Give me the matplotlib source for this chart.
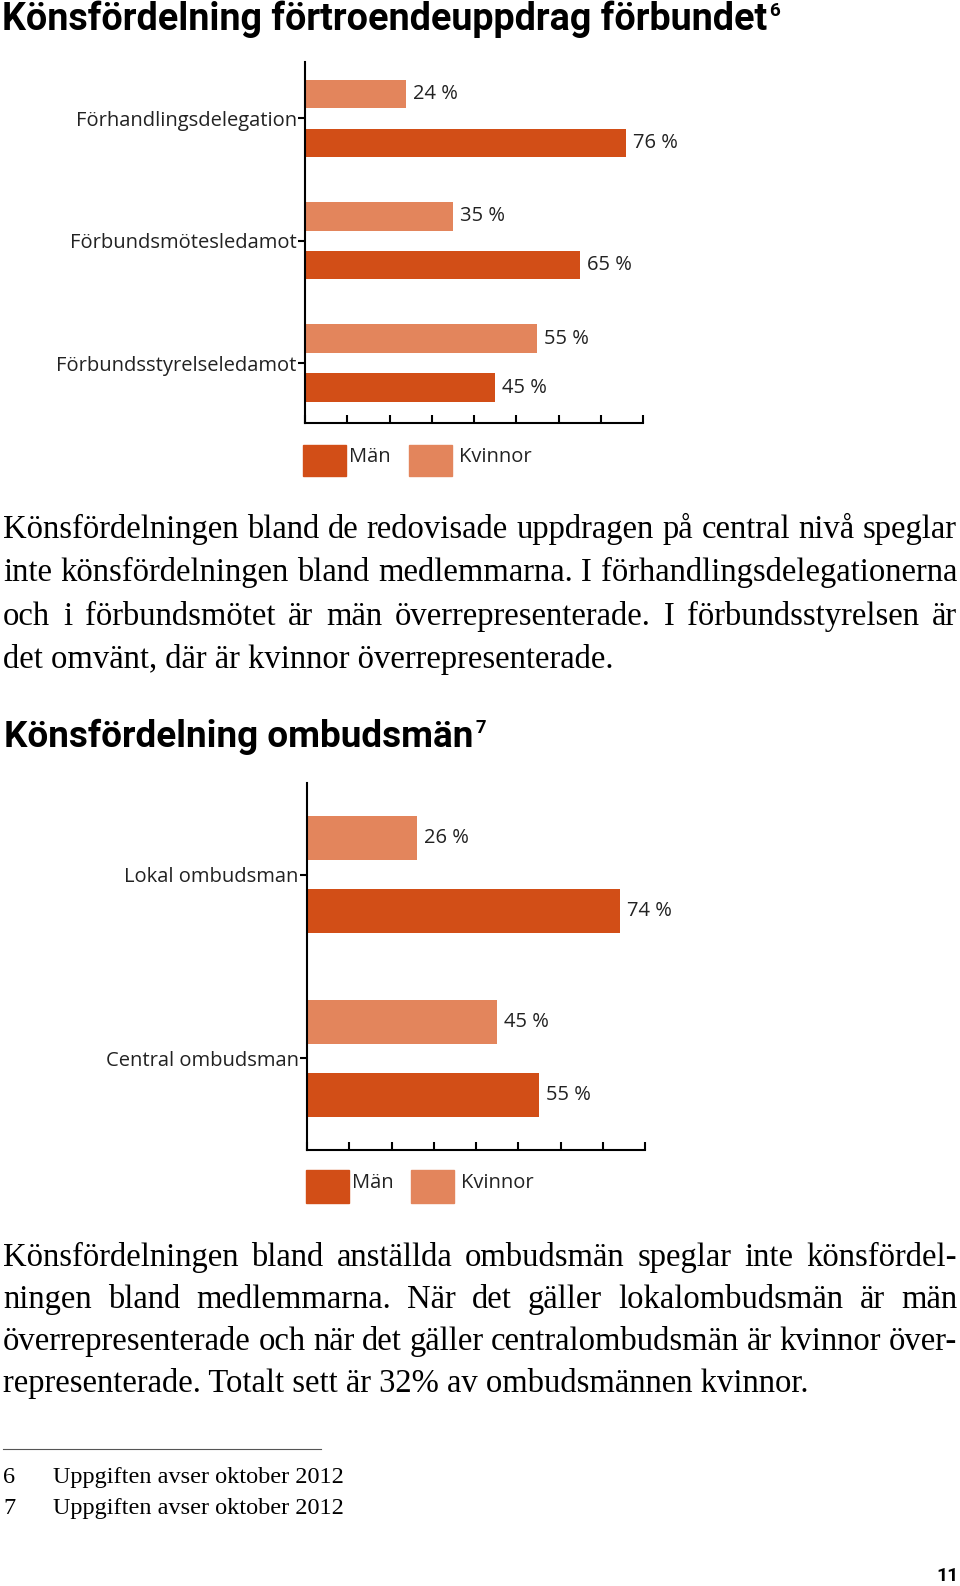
import numpy as np
import matplotlib
matplotlib.use("Agg")
import matplotlib.pyplot as plt
from matplotlib.patches import Rectangle
from matplotlib.lines import Line2D
from matplotlib import font_manager

# --- data ---
uppdrag = ["Förhandlingsdelegation", "Förbundsmötesledamot", "Förbundsstyrelseledamot"]
uppdrag_kvinnor = [24, 35, 55]
uppdrag_man = [76, 65, 45]

ombud = ["Lokal ombudsman", "Central ombudsman"]
ombud_kvinnor = [26, 45]
ombud_man = [74, 55]

legend_labels = ["Män", "Kvinnor"]
xticks = [0, 10, 20, 30, 40, 50, 60, 70, 80]

title1 = "Könsfördelning förtroendeuppdrag förbundet"
title2 = "Könsfördelning ombudsmän"

text1 = [
    "Könsfördelningen bland de redovisade uppdragen på central nivå speglar",
    "inte könsfördelningen bland medlemmarna. I förhandlingsdelegationerna",
    "och i förbundsmötet är män överrepresenterade. I förbundsstyrelsen är",
    "det omvänt, där är kvinnor överrepresenterade.",
]
text2 = [
    "Könsfördelningen bland anställda ombudsmän speglar inte könsfördel-",
    "ningen bland medlemmarna. När det gäller lokalombudsmän är män",
    "överrepresenterade och när det gäller centralombudsmän är kvinnor över-",
    "representerade. Totalt sett är 32% av ombudsmännen kvinnor.",
]
footnotes = [("6", "Uppgiften avser oktober 2012"), ("7", "Uppgiften avser oktober 2012")]

MAN = "#d24e17"
KVINNA = "#e3855c"

names = {f.name for f in font_manager.fontManager.ttflist}
head_font = "Liberation Sans Narrow" if "Liberation Sans Narrow" in names else "Roboto"
sans = "Open Sans"
serif = "Liberation Serif"
LABEL_SIZE = 14.5

W, H = 960, 1586
fig = plt.figure(figsize=(9.6, 15.86), dpi=100)
renderer = fig.canvas.get_renderer()


def fx(x):
    return x / W


def fy(y):
    return 1 - y / H


def width_px(t):
    return t.get_window_extent(renderer).width


def title(txt, sup, x0, y, target):
    t = fig.text(fx(x0), fy(y), txt, fontsize=30, weight="bold", family=head_font, va="baseline")
    size = 30 * target / width_px(t)
    t.set_fontsize(size)
    w = width_px(t)
    px = size * 100 / 72
    fig.text(fx(x0 + w + 2), fy(y - 0.38 * px), sup, fontsize=size * 0.5, weight="bold",
             family=head_font, va="baseline")


def paragraph(lines, y0, step, size=23.5, x0=3, x1=957):
    for i, line in enumerate(lines):
        y = y0 + i * step
        if i == len(lines) - 1:
            fig.text(fx(x0), fy(y), line, fontsize=size, family=serif, va="baseline")
            continue
        words = line.split()
        ts = [fig.text(fx(x0), fy(y), w, fontsize=size, family=serif, va="baseline") for w in words]
        ws = [width_px(t) for t in ts]
        gap = (x1 - x0 - sum(ws)) / (len(words) - 1)
        x = x0
        for t, w in zip(ts, ws):
            t.set_x(fx(x))
            x += w + gap


def bar_chart(box, cats, kv, ma, ylim, h):
    left, top, right, bottom = box
    ax = fig.add_axes([fx(left), fy(bottom), (right - left) / W, (bottom - top) / H])
    pos = np.arange(len(cats))
    b1 = ax.barh(pos - 0.2, kv, height=h, color=KVINNA)
    b2 = ax.barh(pos + 0.2, ma, height=h, color=MAN)
    for b, vals in ((b1, kv), (b2, ma)):
        ax.bar_label(b, labels=[f"{v} %" for v in vals], padding=5, fontsize=LABEL_SIZE,
                     family=sans, color="#222222")
    ax.set_xlim(0, 80)
    ax.set_ylim(*ylim)
    ax.set_xticks(xticks)
    ax.tick_params(axis="x", direction="in", length=6, width=1.5, labelbottom=False)
    ax.set_yticks(pos, cats)
    ax.tick_params(axis="y", direction="out", length=5, width=1.5, pad=1, labelsize=LABEL_SIZE)
    for lab in ax.get_yticklabels():
        lab.set_family(sans)
        lab.set_color("#222222")
    for s in ("top", "right"):
        ax.spines[s].set_visible(False)
    for s in ("left", "bottom"):
        ax.spines[s].set_linewidth(1.5)
    return ax


def legend(x0, x1, y_top, y_bot):
    # Män box + label, Kvinnor box + label
    for (bx, tx), lab, col in zip(((x0, x0 + 46), (x1, x1 + 50)), legend_labels, (MAN, KVINNA)):
        fig.add_artist(Rectangle((fx(bx), fy(y_bot)), 43 / W, (y_bot - y_top) / H,
                                 transform=fig.transFigure, color=col))
        fig.text(fx(tx), fy((y_top + y_bot) / 2 - 3), lab, fontsize=LABEL_SIZE, family=sans,
                 va="center", color="#222222")


# --- section 1 ---
title(title1, "6", 2, 30, 764)
bar_chart((305, 62, 643, 423), uppdrag, uppdrag_kvinnor, uppdrag_man, (2.49, -0.462), 0.233)
legend(303, 409, 445, 476)
paragraph(text1, 538, 43.3)

# --- section 2 ---
title(title2, "7", 4, 747, 469)
bar_chart((307, 783, 645, 1150), ombud, ombud_kvinnor, ombud_man, (1.5, -0.5), 0.24)
legend(306, 411, 1170, 1203)
paragraph(text2, 1266, 42)

# --- footnotes ---
fig.add_artist(Line2D([fx(3), fx(321)], [fy(1449), fy(1449)], transform=fig.transFigure,
                      color="#555555", lw=0.8))
for i, (num, txt) in enumerate(footnotes):
    y = 1483 + i * 31
    fig.text(fx(3), fy(y), num, fontsize=17.5, family=serif, va="baseline")
    fig.text(fx(53), fy(y), txt, fontsize=17.5, family=serif, va="baseline")

fig.text(fx(959), fy(1581), "11", fontsize=14, weight="bold", family=head_font,
         ha="right", va="baseline")

fig.savefig("out.png", dpi=100)
